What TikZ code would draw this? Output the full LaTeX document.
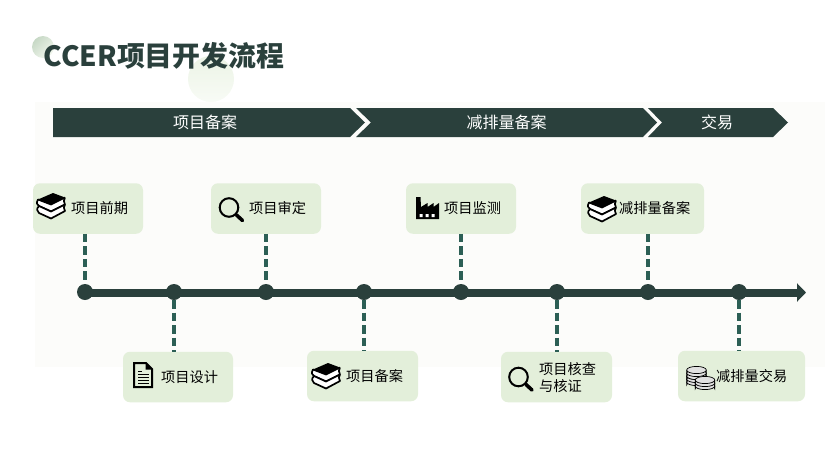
\documentclass[tikz,border=0pt]{standalone}
\usepackage{fontspec}
\setmainfont{Noto Sans CJK SC}
\usetikzlibrary{arrows.meta,positioning,calc}
\definecolor{pinedark}{HTML}{2A403C}
\definecolor{stemgreen}{HTML}{2C5F55}
\definecolor{boxgreen}{HTML}{E3EFDA}
\definecolor{panelgrey}{HTML}{FCFCFA}

\begin{document}
\begin{tikzpicture}[
  x=1pt,y=-1pt,
  panel/.style={fill=panelgrey},
  phase/.style={fill=pinedark},
  phasetext/.style={text=white,font=\fontsize{16}{18}\selectfont,inner sep=0pt},
  stepbox/.style={fill=boxgreen,rounded corners=7pt,minimum height=50.5pt,inner sep=0pt},
  steptext/.style={anchor=west,align=left,inner sep=0pt,font=\fontsize{14.2}{17}\selectfont},
  axisdot/.style={circle,fill=pinedark,minimum size=16pt,inner sep=0pt},
  stem/.style={draw=stemgreen,line width=3.2pt,dash pattern=on 8.5pt off 4pt,xshift=-.6pt},
  pics/books/.style={code={
    \fill[black] (-13,-6.5) -- (2,-13) -- (14,-8.5) -- (0,-1.5) -- cycle;
    \draw[line width=1.7pt,fill=white,line join=round] (14,-8.5) -- (0,-1.5) -- (-13,-6.5) .. controls (-15,-3) and (-14,-1) .. (-12,0) -- (0,5.5) -- (14,-1.5) .. controls (12.5,-4) and (12.5,-6) .. (14,-8.5);
    \draw[line width=1.7pt,fill=white,line join=round] (14,-1.5) -- (0,5.5) -- (-12,0) .. controls (-15,3) and (-14,5) .. (-12,7) -- (0,12.5) -- (14,5) .. controls (12.5,3) and (12.5,0) .. (14,-1.5);
  }},
  pics/lens/.style={code={
    \draw[line width=2pt] (-2,-2) circle[radius=9.3];
    \draw[line width=3.6pt,line cap=round] (5.5,5.5) -- (11.5,11);
  }},
  pics/plant/.style={code={
    \fill[black] (-11.5,-11) -- (-7,-11) -- (-6.5,-1) -- (0,-5) -- (0,-1) -- (6,-5) -- (6,-1) -- (11.5,-5) -- (11.5,11) -- (-11.5,11) -- cycle;
    \fill[white] (-8,6) rectangle (-5,9) (-2,6) rectangle (1,9) (4,6) rectangle (7,9);
  }},
  pics/sheet/.style={code={
    \draw[line width=2pt,line join=miter] (-9,-12) -- (3,-12) -- (9,-6) -- (9,12) -- (-9,12) -- cycle;
    \fill[black] (2.5,-12) -- (9,-5.5) -- (2.5,-5.5) -- cycle;
    \draw[line width=1.5pt] (-5,-3.5) -- (-1,-3.5) (-5,-0.5) -- (5.5,-0.5) (-5,2.5) -- (5.5,2.5) (-5,5.5) -- (5.5,5.5) (-5,8.5) -- (5.5,8.5);
  }},
  pics/coinpile/.style={code={
    \foreach \lift in {3,0,-3}{
      \draw[line width=.7pt,fill=black!25] (-9.8,\lift) -- (-9.8,\lift+3) arc[start angle=180,end angle=360,x radius=9.8,y radius=3.6] -- (9.8,\lift);
      \draw[line width=.7pt,fill=black!12] (0,\lift) ellipse[x radius=9.8,y radius=3.6];
    }
  }}
]
\useasboundingbox (0,0) rectangle (833,448);
\shade[left color=boxgreen!70!green!60!black!35,right color=boxgreen!45,shading angle=45] (43,47) circle[radius=11];
\shade[top color=boxgreen!70,bottom color=boxgreen!25] (211,79) circle[radius=23];
\fill[panel] (35,102) rectangle (825,367);

\node[font=\fontsize{27.9}{32}\selectfont\bfseries,text=pinedark,anchor=west,inner sep=0pt] (title) at (43.5,56) {CCER项目开发流程};

\fill[phase] (53,108) -- (350,108) -- (365,122.5) -- (350,137) -- (53,137) -- cycle;
\fill[phase] (356,108) -- (643,108) -- (657,122.5) -- (643,137) -- (356,137) -- (371,122.5) -- cycle;
\fill[phase] (648,108) -- (773,108) -- (788,122.5) -- (773,137) -- (648,137) -- (662,122.5) -- cycle;
\node[phasetext] (phaseA) at (205,122.5) {项目备案};
\node[phasetext] (phaseB) at (506.5,122.5) {减排量备案};
\node[phasetext] (phaseC) at (717,122.5) {交易};

\node[stepbox,minimum width=110pt] (qianqi) at (88,208.5) {};
\node[stepbox,minimum width=110pt] (shending) at (266,208.5) {};
\node[stepbox,minimum width=110pt] (jiance) at (461,208.5) {};
\node[stepbox,minimum width=123pt] (jianpaiA) at (642.5,208.5) {};
\node[stepbox,minimum width=110pt] (sheji) at (178,377) {};
\node[stepbox,minimum width=111pt] (beian) at (362.5,376) {};
\node[stepbox,minimum width=111pt] (hecha) at (556.5,377) {};
\node[stepbox,minimum width=127pt] (jiaoyi) at (741.5,376) {};

\draw[-{Triangle[length=9pt,width=18pt]},pinedark,line width=8pt] (85,292.5) -- (806,292.5);
\node[axisdot] (dotA) at (85,292) {};
\node[axisdot] (dotB) at (174,292) {};
\node[axisdot] (dotC) at (266,292) {};
\node[axisdot] (dotD) at (364,292) {};
\node[axisdot] (dotE) at (461,292) {};
\node[axisdot] (dotF) at (557,292) {};
\node[axisdot] (dotG) at (648,292) {};
\node[axisdot] (dotH) at (739,292) {};

\draw[stem] (dotA |- qianqi.south) -- (dotA.north);
\draw[stem] (dotC |- shending.south) -- (dotC.north);
\draw[stem] (dotE |- jiance.south) -- (dotE.north);
\draw[stem] (dotG |- jianpaiA.south) -- (dotG.north);
\draw[stem] (dotB.south) -- (dotB |- sheji.north);
\draw[stem] (dotD.south) -- (dotD |- beian.north);
\draw[stem] (dotF.south) -- (dotF |- hecha.north);
\draw[stem] (dotH.south) -- (dotH |- jiaoyi.north);

\pic at (51,206) {books};
\pic at (231,209.5) {lens};
\pic at (427.5,208) {plant};
\pic at (143,375) {sheet};
\pic at (326,376) {books};
\pic at (520.5,379) {lens};
\pic at (602,209) {books};
\pic at (696.5,379) {coinpile};
\pic at (696.5,373) {coinpile};
\pic at (705,383) {coinpile};

\node[steptext] (tqianqi) at (71,208) {项目前期};
\node[steptext] (tshending) at (249,208) {项目审定};
\node[steptext] (tjiance) at (444,208) {项目监测};
\node[steptext] (tjianpaiA) at (619,208) {减排量备案};
\node[steptext] (tsheji) at (161,377) {项目设计};
\node[steptext] (tbeian) at (346,376) {项目备案};
\node[steptext] (thecha) at (539,377.5) {项目核查\\与核证};
\node[steptext] (tjiaoyi) at (716,376) {减排量交易};
\end{tikzpicture}
\end{document}
